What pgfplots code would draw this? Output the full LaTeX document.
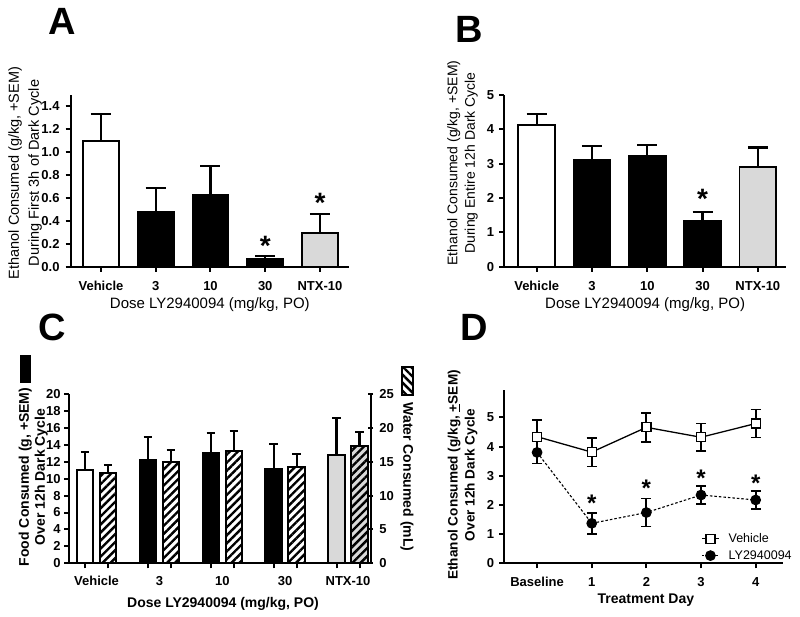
\documentclass[border=0pt]{standalone}
\usepackage{fontspec}
\setmainfont{Liberation Sans}
\usepackage{pgfplots}
\pgfplotsset{compat=1.18}
\usetikzlibrary{patterns.meta}
\definecolor{ntx}{RGB}{217,217,217}
\newcommand{\fs}[1]{\fontsize{#1}{#1}\selectfont}
\pgfplotsset{
  panel/.style={
    scale only axis, anchor=south west, clip=false,
    axis lines=left,
    axis line style={line width=2.2pt,-},
    tick align=outside,
    major tick length=5pt,
    tick style={line width=2pt, black},
    ymin=0,
    /pgf/number format/assume math mode=true,
    tick label style={font=\fs{13}\bfseries},
    ylabel style={anchor=center, align=center},
    xlabel style={anchor=base},
  },
  bars/.style={ybar, bar width=#1, draw=black, line width=1.9pt,
    error bars/y dir=plus, error bars/y explicit,
    error bars/error bar style={line width=2.2pt, black, solid},
    error bars/error mark options={rotate=90, line width=2.2pt, mark size=10pt, black}},
  cbars/.style={ybar, bar width=16.5pt, bar shift=0pt, draw=black, line width=1.9pt,
    error bars/y dir=plus, error bars/y explicit,
    error bars/error bar style={line width=2.2pt, black, solid},
    error bars/error mark options={rotate=90, line width=2.2pt, mark size=4.2pt, black}},
}
\tikzset{sigstar/.style={font=\fs{28}\bfseries, inner sep=0pt, anchor=center, yshift=-6pt}}
\begin{document}
\begin{tikzpicture}
\path[use as bounding box] (0,0) rectangle (800pt,617pt);

% Panel letters
\node[font=\fs{38}\bfseries, anchor=base west, inner sep=0pt] at (48pt,582pt) {A};
\node[font=\fs{38}\bfseries, anchor=base west, inner sep=0pt] at (455pt,574.3pt) {B};
\node[font=\fs{38}\bfseries, anchor=base west, inner sep=0pt] at (38pt,276.3pt) {C};
\node[font=\fs{38}\bfseries, anchor=base west, inner sep=0pt] at (460pt,276pt) {D};

% ---------------- Panel A ----------------
\begin{axis}[panel, at={(70.7pt,350.3pt)}, width=278.3pt, height=171.7pt,
  xmin=-0.553, xmax=4.53, ymax=1.496,
  ytick={0,0.2,0.4,0.6,0.8,1.0,1.2,1.4},
  yticklabel style={anchor=east, inner sep=0pt, xshift=-6pt,
    /pgf/number format/fixed, /pgf/number format/fixed zerofill, /pgf/number format/precision=1},
  xtick={0,1,2,3,4}, xticklabels={Vehicle,3,10,30,NTX-10},
  xticklabel style={anchor=base, inner sep=0pt, yshift=-19.3pt},
  xlabel={Dose LY2940094 (mg/kg, PO)},
  xlabel style={at={(axis description cs:0.5,-0.243)}, font=\fs{15}},
  ylabel={Ethanol Consumed (g/kg, +SEM)\\During First 3h of Dark Cycle},
  ylabel style={at={(axis description cs:-0.164,0.546)}, font=\fontsize{14.5}{20}\selectfont},
]
\addplot[bars=36pt, fill=white] coordinates {(0,1.098) +- (0,0.229)};
\addplot[bars=36pt, fill=black] coordinates {(1,0.476) +- (0,0.212) (2,0.622) +- (0,0.255) (3,0.067) +- (0,0.026)};
\addplot[bars=36pt, fill=ntx] coordinates {(4,0.290) +- (0,0.172)};
\node[sigstar] at (axis cs:3,0.235) {*};
\node[sigstar] at (axis cs:4,0.61) {*};
\end{axis}

% ---------------- Panel B ----------------
\begin{axis}[panel, at={(504.3pt,350.3pt)}, width=281.7pt, height=171.7pt,
  xmin=-0.586, xmax=4.51, ymax=5,
  ytick={0,1,2,3,4,5},
  yticklabel style={anchor=east, inner sep=0pt, xshift=-5pt},
  xtick={0,1,2,3,4}, xticklabels={Vehicle,3,10,30,NTX-10},
  xticklabel style={anchor=base, inner sep=0pt, yshift=-19.3pt},
  xlabel={Dose LY2940094 (mg/kg, PO)},
  xlabel style={at={(axis description cs:0.5,-0.246)}, font=\fs{15}},
  ylabel={Ethanol Consumed (g/kg, +SEM)\\During Entire 12h Dark Cycle},
  ylabel style={at={(axis description cs:-0.148,0.604)}, font=\fontsize{14}{17.5}\selectfont},
]
\addplot[bars=36.7pt, fill=white] coordinates {(0,4.13) +- (0,0.31)};
\addplot[bars=36.7pt, fill=black] coordinates {(1,3.11) +- (0,0.40) (2,3.22) +- (0,0.33) (3,1.33) +- (0,0.26)};
\addplot[bars=36.7pt, fill=ntx] coordinates {(4,2.89) +- (0,0.58)};
\node[sigstar] at (axis cs:3,2.16) {*};
\end{axis}

% ---------------- Panel C (food, left axis) ----------------
\begin{axis}[panel, at={(69.3pt,53.7pt)}, width=301.4pt, height=169.3pt,
  xmin=-0.433, xmax=4.36, ymax=20,
  ytick={0,2,4,6,8,10,12,14,16,18,20},
  yticklabel style={anchor=east, inner sep=0pt, xshift=-3.5pt},
  xtick={-0.183,0.183,0.817,1.183,1.817,2.183,2.817,3.183,3.817,4.183},
  xticklabels={},
  extra x ticks={0,1,2,3,4},
  extra x tick labels={Vehicle,3,10,30,NTX-10},
  extra x tick style={major tick length=0pt,
    xticklabel style={anchor=base, inner sep=0pt, yshift=-22.4pt}},
  xlabel={Dose LY2940094 (mg/kg, PO)},
  xlabel style={at={(axis description cs:0.51,-0.261)}, font=\fs{14}\bfseries},
  ylabel={Food Consumed (g, +SEM)\\Over 12h Dark Cycle},
  ylabel style={at={(axis description cs:-0.12,0.51)}, font=\fontsize{14}{16}\selectfont\bfseries},
]
\addplot[cbars, fill=white] coordinates {(-0.183,10.98) +- (0,2.21)};
\addplot[cbars, fill=black] coordinates {(0.817,12.24) +- (0,2.72) (1.817,13.07) +- (0,2.36) (2.817,11.10) +- (0,2.99)};
\addplot[cbars, fill=ntx] coordinates {(3.817,12.80) +- (0,4.37)};
\node[fill=black, minimum width=11pt, minimum height=28pt, inner sep=0pt] at (axis description cs:-0.145,1.148) {};
\end{axis}

% ---------------- Panel C (water, right axis) ----------------
\begin{axis}[panel, at={(69.3pt,53.7pt)}, width=301.4pt, height=169.3pt,
  axis x line=none, axis y line=right,
  axis line style={line width=2.2pt,-},
  xmin=-0.433, xmax=4.36, ymin=0, ymax=25,
  ytick={0,5,10,15,20,25},
  yticklabel style={anchor=west, inner sep=0pt, xshift=6pt},
  ylabel={Water Consumed (mL)},
  every axis y label/.style={at={(axis description cs:1.12,0.51)}, rotate=-90, anchor=center, font=\fs{14}\bfseries},
]
\addplot[cbars, fill=white, postaction={pattern={Lines[angle=45,distance=5.7pt,line width=2.4pt]}}]
  coordinates {(0.183,13.34) +- (0,1.18) (1.183,15.01) +- (0,1.67) (2.183,16.54) +- (0,3.05) (3.183,14.22) +- (0,1.87)};
\addplot[cbars, fill=ntx, postaction={pattern={Lines[angle=45,distance=5.7pt,line width=2.4pt]}}]
  coordinates {(4.183,17.32) +- (0,2.07)};
\node[draw=black, line width=1.5pt, minimum width=11pt, minimum height=28pt, inner sep=0pt,
  pattern={Lines[angle=-45,distance=5.7pt,line width=2.4pt]}] at (axis description cs:1.122,1.077) {};
\end{axis}

% ---------------- Panel D ----------------
\begin{axis}[panel, at={(504.3pt,53.7pt)}, width=278.7pt, height=173.3pt,
  xmin=-0.6, xmax=4.5, ymax=5.94,
  ytick={0,1,2,3,4,5},
  yticklabel style={anchor=east, inner sep=0pt, xshift=-5pt},
  xtick={0,1,2,3,4}, xticklabels={Baseline,1,2,3,4},
  xticklabel style={anchor=base, inner sep=0pt, yshift=-18.4pt},
  xlabel={Treatment Day},
  xlabel style={at={(axis description cs:0.508,-0.231)}, font=\fs{14}\bfseries},
  ylabel={Ethanol Consumed (g/kg, \underline{+}SEM)\\Over 12h Dark Cycle},
  ylabel style={at={(axis description cs:-0.15,0.51)}, font=\fontsize{13.6}{17}\selectfont\bfseries},
  legend style={draw=none, fill=none, at={(axis description cs:0.706,0.185)}, anchor=north west,
    font=\fs{12.5}, legend cell align=left, inner sep=0pt, row sep=2.5pt,
    /tikz/every odd column/.append style={column sep=7pt}},
]
\addplot[black, line width=1.3pt, mark=square*, mark size=4.5pt,
  mark options={fill=white, solid, line width=1.3pt},
  error bars/y dir=both, error bars/y explicit,
  error bars/error bar style={line width=1.8pt, solid},
  error bars/error mark options={rotate=90, line width=1.8pt, mark size=5pt}]
  coordinates {(0,4.34) +- (0,0.58) (1,3.81) +- (0,0.49) (2,4.66) +- (0,0.50) (3,4.32) +- (0,0.47) (4,4.79) +- (0,0.48)};
\addplot[black, line width=1.1pt, dash pattern=on 2.5pt off 2pt, mark=*, mark size=4.8pt,
  mark options={solid},
  error bars/y dir=both, error bars/y explicit,
  error bars/error bar style={line width=1.8pt, solid},
  error bars/error mark options={rotate=90, line width=1.8pt, mark size=5pt, solid}]
  coordinates {(0,3.80) +- (0,0.38) (1,1.37) +- (0,0.36) (2,1.74) +- (0,0.48) (3,2.34) +- (0,0.32) (4,2.17) +- (0,0.32)};
\legend{Vehicle, LY2940094}
\node[sigstar, font=\fs{24}\bfseries, yshift=1pt] at (axis cs:1,2.24) {*};
\node[sigstar, font=\fs{24}\bfseries, yshift=1pt] at (axis cs:2,2.74) {*};
\node[sigstar, font=\fs{24}\bfseries, yshift=1pt] at (axis cs:3,3.08) {*};
\node[sigstar, font=\fs{24}\bfseries, yshift=1pt] at (axis cs:4,2.91) {*};
\end{axis}
\end{tikzpicture}
\end{document}
